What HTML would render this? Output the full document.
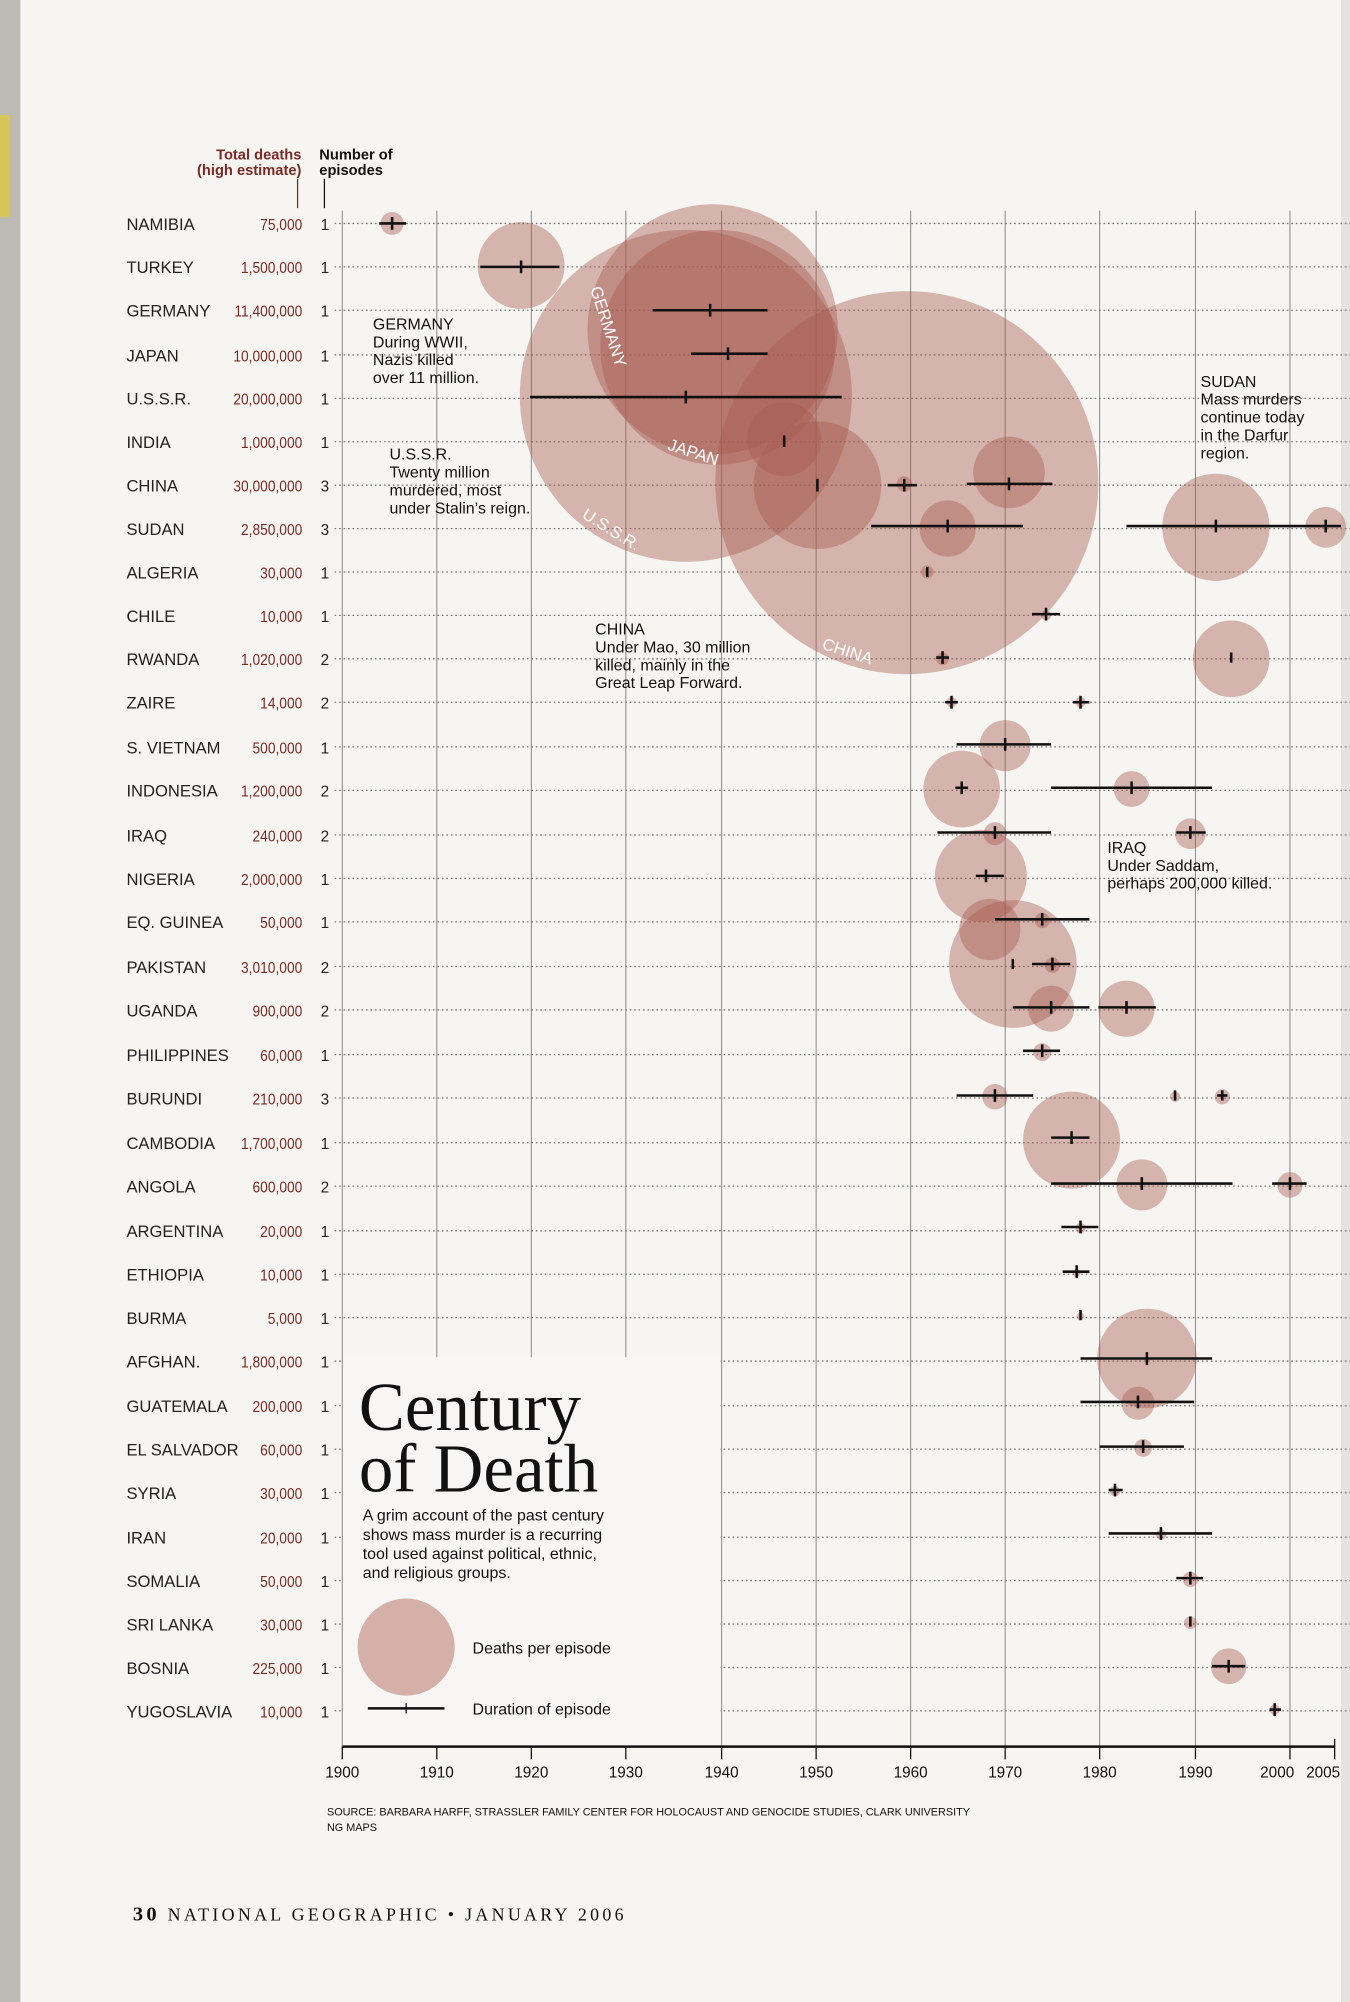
<!DOCTYPE html>
<html><head><meta charset="utf-8"><style>
html,body{margin:0;padding:0;background:#f6f5f3;}
svg{display:block}
text{font-family:"Liberation Sans",sans-serif;}
</style></head><body>
<svg width="1350" height="2002" viewBox="0 0 1057 1568" preserveAspectRatio="none" xmlns="http://www.w3.org/2000/svg">
<rect width="1057" height="1568" fill="#f6f5f2"/>
<rect x="0" y="0" width="16" height="1568" fill="#bcbab2"/>
<rect x="0" y="90" width="8" height="80" fill="#d8c55a"/>
<rect x="1050" y="0" width="7" height="1568" fill="#e4e3df"/>
<g stroke="#8a8a8a" stroke-width="0.8">
<line x1="268" y1="165" x2="268" y2="1368"/>
<line x1="342" y1="165" x2="342" y2="1368"/>
<line x1="416" y1="165" x2="416" y2="1368"/>
<line x1="490" y1="165" x2="490" y2="1368"/>
<line x1="565" y1="165" x2="565" y2="1368"/>
<line x1="639" y1="165" x2="639" y2="1368"/>
<line x1="713" y1="165" x2="713" y2="1368"/>
<line x1="787" y1="165" x2="787" y2="1368"/>
<line x1="861" y1="165" x2="861" y2="1368"/>
<line x1="936" y1="165" x2="936" y2="1368"/>
<line x1="1010" y1="165" x2="1010" y2="1368"/>
</g>
<g stroke="#777" stroke-width="1" stroke-dasharray="1.3,2.2">
<line x1="262" x2="1057" y1="175" y2="175"/><line x1="262" x2="1057" y1="209" y2="209"/><line x1="262" x2="1057" y1="243" y2="243"/><line x1="262" x2="1057" y1="278" y2="278"/><line x1="262" x2="1057" y1="312" y2="312"/><line x1="262" x2="1057" y1="346" y2="346"/><line x1="262" x2="1057" y1="380" y2="380"/><line x1="262" x2="1057" y1="414" y2="414"/><line x1="262" x2="1057" y1="448" y2="448"/><line x1="262" x2="1057" y1="482" y2="482"/><line x1="262" x2="1057" y1="516" y2="516"/><line x1="262" x2="1057" y1="550" y2="550"/><line x1="262" x2="1057" y1="585" y2="585"/><line x1="262" x2="1057" y1="619" y2="619"/><line x1="262" x2="1057" y1="654" y2="654"/><line x1="262" x2="1057" y1="688" y2="688"/><line x1="262" x2="1057" y1="722" y2="722"/><line x1="262" x2="1057" y1="757" y2="757"/><line x1="262" x2="1057" y1="791" y2="791"/><line x1="262" x2="1057" y1="826" y2="826"/><line x1="262" x2="1057" y1="860" y2="860"/><line x1="262" x2="1057" y1="895" y2="895"/><line x1="262" x2="1057" y1="929" y2="929"/><line x1="262" x2="1057" y1="964" y2="964"/><line x1="262" x2="1057" y1="998" y2="998"/><line x1="262" x2="1057" y1="1032" y2="1032"/><line x1="262" x2="1057" y1="1066" y2="1066"/><line x1="262" x2="1057" y1="1101" y2="1101"/><line x1="262" x2="1057" y1="1135" y2="1135"/><line x1="262" x2="1057" y1="1169" y2="1169"/><line x1="262" x2="1057" y1="1204" y2="1204"/><line x1="262" x2="1057" y1="1238" y2="1238"/><line x1="262" x2="1057" y1="1272" y2="1272"/><line x1="262" x2="1057" y1="1306" y2="1306"/><line x1="262" x2="1057" y1="1340" y2="1340"/>
</g>
<rect x="269" y="1063" width="295" height="304" fill="#f7f6f4"/>
<g fill="#a85a4e" fill-opacity="0.42">
<circle cx="307" cy="175" r="9"/>
<circle cx="408" cy="208" r="34"/>
<circle cx="537" cy="310" r="130"/>
<circle cx="558" cy="258" r="98"/>
<circle cx="562" cy="272" r="92"/>
<circle cx="710" cy="378" r="150"/>
<circle cx="614" cy="344" r="29"/>
<circle cx="640" cy="380" r="50"/>
<circle cx="708" cy="379" r="6"/>
<circle cx="790" cy="370" r="28"/>
<circle cx="742" cy="414" r="22"/>
<circle cx="952" cy="413" r="42"/>
<circle cx="1038" cy="413" r="16"/>
<circle cx="726" cy="448" r="5"/>
<circle cx="819" cy="482" r="4"/>
<circle cx="738" cy="516" r="5"/>
<circle cx="964" cy="516" r="30"/>
<circle cx="745" cy="550" r="4"/>
<circle cx="846" cy="550" r="4"/>
<circle cx="787" cy="584" r="20"/>
<circle cx="753" cy="618" r="30"/>
<circle cx="886" cy="618" r="14"/>
<circle cx="779" cy="653" r="9"/>
<circle cx="932" cy="653" r="12"/>
<circle cx="768" cy="686" r="36"/>
<circle cx="816" cy="721" r="6"/>
<circle cx="775" cy="728" r="24"/>
<circle cx="793" cy="755" r="50"/>
<circle cx="824" cy="756" r="6"/>
<circle cx="823" cy="790" r="18"/>
<circle cx="882" cy="790" r="22"/>
<circle cx="816" cy="824" r="7"/>
<circle cx="779" cy="859" r="10"/>
<circle cx="920" cy="859" r="4"/>
<circle cx="957" cy="859" r="6"/>
<circle cx="839" cy="893" r="38"/>
<circle cx="894" cy="928" r="20"/>
<circle cx="1010" cy="928" r="10"/>
<circle cx="846" cy="962" r="4"/>
<circle cx="843" cy="997" r="3"/>
<circle cx="846" cy="1031" r="3"/>
<circle cx="898" cy="1064" r="39"/>
<circle cx="891" cy="1099" r="13"/>
<circle cx="895" cy="1134" r="7"/>
<circle cx="873" cy="1168" r="4"/>
<circle cx="909" cy="1202" r="4"/>
<circle cx="932" cy="1237" r="6"/>
<circle cx="932" cy="1271" r="5"/>
<circle cx="962" cy="1305" r="14"/>
<circle cx="998" cy="1339" r="4"/>
</g>
<g stroke="#111" stroke-width="2">
<line x1="297" x2="318" y1="175" y2="175"/><line x1="307" x2="307" y1="170" y2="180"/>
<line x1="376" x2="438" y1="209" y2="209"/><line x1="408" x2="408" y1="204" y2="214"/>
<line x1="511" x2="601" y1="243" y2="243"/><line x1="556" x2="556" y1="238" y2="248"/>
<line x1="541" x2="601" y1="277" y2="277"/><line x1="570" x2="570" y1="272" y2="282"/>
<line x1="415" x2="659" y1="311" y2="311"/><line x1="537" x2="537" y1="306" y2="316"/>
<line x1="614" x2="614" y1="341" y2="350"/>
<line x1="640" x2="640" y1="375" y2="385"/>
<line x1="695" x2="718" y1="380" y2="380"/><line x1="708" x2="708" y1="375" y2="385"/>
<line x1="757" x2="824" y1="379" y2="379"/><line x1="790" x2="790" y1="374" y2="384"/>
<line x1="682" x2="801" y1="412" y2="412"/><line x1="742" x2="742" y1="407" y2="417"/>
<line x1="882" x2="1050" y1="412" y2="412"/><line x1="952" x2="952" y1="407" y2="417"/><line x1="1038" x2="1038" y1="407" y2="417"/>
<line x1="726" x2="726" y1="444" y2="452"/>
<line x1="808" x2="830" y1="481" y2="481"/><line x1="819" x2="819" y1="476" y2="486"/>
<line x1="733" x2="743" y1="515" y2="515"/><line x1="738" x2="738" y1="510" y2="520"/><line x1="964" x2="964" y1="511" y2="519"/>
<line x1="740" x2="750" y1="550" y2="550"/><line x1="745" x2="745" y1="545" y2="555"/>
<line x1="840" x2="853" y1="550" y2="550"/><line x1="846" x2="846" y1="545" y2="555"/>
<line x1="749" x2="823" y1="583" y2="583"/><line x1="787" x2="787" y1="578" y2="588"/>
<line x1="748" x2="758" y1="617" y2="617"/><line x1="753" x2="753" y1="612" y2="622"/>
<line x1="823" x2="949" y1="617" y2="617"/><line x1="886" x2="886" y1="612" y2="622"/>
<line x1="734" x2="823" y1="652" y2="652"/><line x1="779" x2="779" y1="647" y2="657"/>
<line x1="921" x2="944" y1="652" y2="652"/><line x1="932" x2="932" y1="647" y2="657"/>
<line x1="764" x2="786" y1="686" y2="686"/><line x1="772" x2="772" y1="681" y2="691"/>
<line x1="779" x2="853" y1="720" y2="720"/><line x1="816" x2="816" y1="715" y2="725"/>
<line x1="793" x2="793" y1="751" y2="759"/>
<line x1="808" x2="838" y1="755" y2="755"/><line x1="824" x2="824" y1="750" y2="760"/>
<line x1="793" x2="853" y1="789" y2="789"/><line x1="823" x2="823" y1="784" y2="794"/>
<line x1="860" x2="905" y1="789" y2="789"/><line x1="882" x2="882" y1="784" y2="794"/>
<line x1="801" x2="830" y1="823" y2="823"/><line x1="816" x2="816" y1="818" y2="828"/>
<line x1="749" x2="809" y1="858" y2="858"/><line x1="779" x2="779" y1="853" y2="863"/>
<line x1="920" x2="920" y1="854" y2="862"/><line x1="953" x2="961" y1="858" y2="858"/><line x1="957" x2="957" y1="854" y2="862"/>
<line x1="823" x2="853" y1="891" y2="891"/><line x1="839" x2="839" y1="886" y2="896"/>
<line x1="823" x2="965" y1="927" y2="927"/><line x1="894" x2="894" y1="922" y2="932"/>
<line x1="996" x2="1023" y1="927" y2="927"/><line x1="1010" x2="1010" y1="922" y2="932"/>
<line x1="831" x2="860" y1="961" y2="961"/><line x1="846" x2="846" y1="956" y2="966"/>
<line x1="832" x2="853" y1="996" y2="996"/><line x1="843" x2="843" y1="991" y2="1001"/>
<line x1="846" x2="846" y1="1026" y2="1034"/>
<line x1="846" x2="949" y1="1064" y2="1064"/><line x1="898" x2="898" y1="1059" y2="1069"/>
<line x1="846" x2="935" y1="1098" y2="1098"/><line x1="891" x2="891" y1="1093" y2="1103"/>
<line x1="861" x2="927" y1="1133" y2="1133"/><line x1="895" x2="895" y1="1128" y2="1138"/>
<line x1="868" x2="879" y1="1167" y2="1167"/><line x1="873" x2="873" y1="1162" y2="1172"/>
<line x1="868" x2="949" y1="1201" y2="1201"/><line x1="909" x2="909" y1="1196" y2="1206"/>
<line x1="921" x2="942" y1="1236" y2="1236"/><line x1="932" x2="932" y1="1231" y2="1241"/>
<line x1="932" x2="932" y1="1266" y2="1274"/>
<line x1="949" x2="975" y1="1305" y2="1305"/><line x1="962" x2="962" y1="1300" y2="1310"/>
<line x1="994" x2="1003" y1="1339" y2="1339"/><line x1="998" x2="998" y1="1334" y2="1344"/>
</g>
<g fill="#fff" font-size="13">
<text transform="translate(462,226) rotate(72)">GERMANY</text>
<text transform="translate(522,352) rotate(18)">JAPAN</text>
<text transform="translate(455,405) rotate(32)">U.S.S.R.</text>
<text transform="translate(643,508) rotate(18)">CHINA</text>
</g>
<g font-size="12.5" fill="#111">
<text x="292" y="258">GERMANY</text><text x="292" y="272">During WWII,</text><text x="292" y="286">Nazis killed</text><text x="292" y="300">over 11 million.</text>
<text x="305" y="360">U.S.S.R.</text><text x="305" y="374">Twenty million</text><text x="305" y="388">murdered, most</text><text x="305" y="402">under Stalin’s reign.</text>
<text x="466" y="497">CHINA</text><text x="466" y="511">Under Mao, 30 million</text><text x="466" y="525">killed, mainly in the</text><text x="466" y="539">Great Leap Forward.</text>
<text x="940" y="303">SUDAN</text><text x="940" y="317">Mass murders</text><text x="940" y="331">continue today</text><text x="940" y="345">in the Darfur</text><text x="940" y="359">region.</text>
<text x="867" y="668">IRAQ</text><text x="867" y="682">Under Saddam,</text><text x="867" y="696">perhaps 200,000 killed.</text>
</g>
<g font-size="11.5" font-weight="bold">
<text x="236" y="125" text-anchor="end" fill="#7a2a25">Total deaths</text>
<text x="236" y="137" text-anchor="end" fill="#7a2a25">(high estimate)</text>
<text x="250" y="125" fill="#111">Number of</text>
<text x="250" y="137" fill="#111">episodes</text>
</g>
<line x1="233" y1="140" x2="233" y2="163" stroke="#7a2a25" stroke-width="1"/>
<line x1="254" y1="140" x2="254" y2="163" stroke="#111" stroke-width="1"/>
<g font-size="13" fill="#222">
<text x="99" y="180">NAMIBIA</text><text x="99" y="214">TURKEY</text><text x="99" y="248">GERMANY</text><text x="99" y="283">JAPAN</text><text x="99" y="317">U.S.S.R.</text><text x="99" y="351">INDIA</text><text x="99" y="385">CHINA</text><text x="99" y="419">SUDAN</text><text x="99" y="453">ALGERIA</text><text x="99" y="487">CHILE</text><text x="99" y="521">RWANDA</text><text x="99" y="555">ZAIRE</text><text x="99" y="590">S. VIETNAM</text><text x="99" y="624">INDONESIA</text><text x="99" y="659">IRAQ</text><text x="99" y="693">NIGERIA</text><text x="99" y="727">EQ. GUINEA</text><text x="99" y="762">PAKISTAN</text><text x="99" y="796">UGANDA</text><text x="99" y="831">PHILIPPINES</text><text x="99" y="865">BURUNDI</text><text x="99" y="900">CAMBODIA</text><text x="99" y="934">ANGOLA</text><text x="99" y="969">ARGENTINA</text><text x="99" y="1003">ETHIOPIA</text><text x="99" y="1037">BURMA</text><text x="99" y="1071">AFGHAN.</text><text x="99" y="1106">GUATEMALA</text><text x="99" y="1140">EL SALVADOR</text><text x="99" y="1174">SYRIA</text><text x="99" y="1209">IRAN</text><text x="99" y="1243">SOMALIA</text><text x="99" y="1277">SRI LANKA</text><text x="99" y="1311">BOSNIA</text><text x="99" y="1345">YUGOSLAVIA</text>
</g>
<g font-size="12" fill="#7a2a25" text-anchor="end" transform="scale(0.9,1)">
<text x="263" y="180">75,000</text><text x="263" y="214">1,500,000</text><text x="263" y="248">11,400,000</text><text x="263" y="283">10,000,000</text><text x="263" y="317">20,000,000</text><text x="263" y="351">1,000,000</text><text x="263" y="385">30,000,000</text><text x="263" y="419">2,850,000</text><text x="263" y="453">30,000</text><text x="263" y="487">10,000</text><text x="263" y="521">1,020,000</text><text x="263" y="555">14,000</text><text x="263" y="590">500,000</text><text x="263" y="624">1,200,000</text><text x="263" y="659">240,000</text><text x="263" y="693">2,000,000</text><text x="263" y="727">50,000</text><text x="263" y="762">3,010,000</text><text x="263" y="796">900,000</text><text x="263" y="831">60,000</text><text x="263" y="865">210,000</text><text x="263" y="900">1,700,000</text><text x="263" y="934">600,000</text><text x="263" y="969">20,000</text><text x="263" y="1003">10,000</text><text x="263" y="1037">5,000</text><text x="263" y="1071">1,800,000</text><text x="263" y="1106">200,000</text><text x="263" y="1140">60,000</text><text x="263" y="1174">30,000</text><text x="263" y="1209">20,000</text><text x="263" y="1243">50,000</text><text x="263" y="1277">30,000</text><text x="263" y="1311">225,000</text><text x="263" y="1345">10,000</text>
</g>
<g font-size="12" fill="#222">
<text x="251" y="180">1</text><text x="251" y="214">1</text><text x="251" y="248">1</text><text x="251" y="283">1</text><text x="251" y="317">1</text><text x="251" y="351">1</text><text x="251" y="385">3</text><text x="251" y="419">3</text><text x="251" y="453">1</text><text x="251" y="487">1</text><text x="251" y="521">2</text><text x="251" y="555">2</text><text x="251" y="590">1</text><text x="251" y="624">2</text><text x="251" y="659">2</text><text x="251" y="693">1</text><text x="251" y="727">1</text><text x="251" y="762">2</text><text x="251" y="796">2</text><text x="251" y="831">1</text><text x="251" y="865">3</text><text x="251" y="900">1</text><text x="251" y="934">2</text><text x="251" y="969">1</text><text x="251" y="1003">1</text><text x="251" y="1037">1</text><text x="251" y="1071">1</text><text x="251" y="1106">1</text><text x="251" y="1140">1</text><text x="251" y="1174">1</text><text x="251" y="1209">1</text><text x="251" y="1243">1</text><text x="251" y="1277">1</text><text x="251" y="1311">1</text><text x="251" y="1345">1</text>
</g>
<g fill="#111" font-size="54">
<text x="281" y="1120" style="font-family:'Liberation Serif',serif">Century</text>
<text x="281" y="1168" style="font-family:'Liberation Serif',serif">of Death</text>
</g>
<g font-size="12.5" fill="#111">
<text x="284" y="1191">A grim account of the past century</text>
<text x="284" y="1206">shows mass murder is a recurring</text>
<text x="284" y="1221">tool used against political, ethnic,</text>
<text x="284" y="1236">and religious groups.</text>
<text x="370" y="1295">Deaths per episode</text>
<text x="370" y="1343">Duration of episode</text>
</g>
<circle cx="318" cy="1290" r="38" fill="#a85a4e" fill-opacity="0.45"/>
<line x1="288" x2="348" y1="1338" y2="1338" stroke="#111" stroke-width="2"/>
<line x1="318" x2="318" y1="1334" y2="1342" stroke="#111" stroke-width="1"/>
<line x1="268" x2="1045" y1="1368" y2="1368" stroke="#111" stroke-width="2"/>
<g stroke="#111" stroke-width="1">
<line x1="268" x2="268" y1="1368" y2="1378"/><line x1="342" x2="342" y1="1368" y2="1378"/><line x1="416" x2="416" y1="1368" y2="1378"/><line x1="490" x2="490" y1="1368" y2="1378"/><line x1="565" x2="565" y1="1368" y2="1378"/><line x1="639" x2="639" y1="1368" y2="1378"/><line x1="713" x2="713" y1="1368" y2="1378"/><line x1="787" x2="787" y1="1368" y2="1378"/><line x1="861" x2="861" y1="1368" y2="1378"/><line x1="936" x2="936" y1="1368" y2="1378"/><line x1="1010" x2="1010" y1="1368" y2="1378"/><line x1="1045" x2="1045" y1="1362" y2="1378"/>
</g>
<g font-size="12" fill="#111" text-anchor="middle">
<text x="268" y="1392">1900</text><text x="342" y="1392">1910</text><text x="416" y="1392">1920</text><text x="490" y="1392">1930</text><text x="565" y="1392">1940</text><text x="639" y="1392">1950</text><text x="713" y="1392">1960</text><text x="787" y="1392">1970</text><text x="861" y="1392">1980</text><text x="936" y="1392">1990</text><text x="1000" y="1392">2000</text><text x="1036" y="1392">2005</text>
</g>
<g font-size="8.5" fill="#111">
<text x="256" y="1422">SOURCE: BARBARA HARFF, STRASSLER FAMILY CENTER FOR HOLOCAUST AND GENOCIDE STUDIES, CLARK UNIVERSITY</text>
<text x="256" y="1434">NG MAPS</text>
</g>
<text x="104" y="1504" font-size="14" fill="#111" letter-spacing="2.6" style="font-family:'Liberation Serif',serif"><tspan font-size="16" font-weight="bold">30</tspan> NATIONAL GEOGRAPHIC • JANUARY 2006</text>
</svg>
</body></html>
